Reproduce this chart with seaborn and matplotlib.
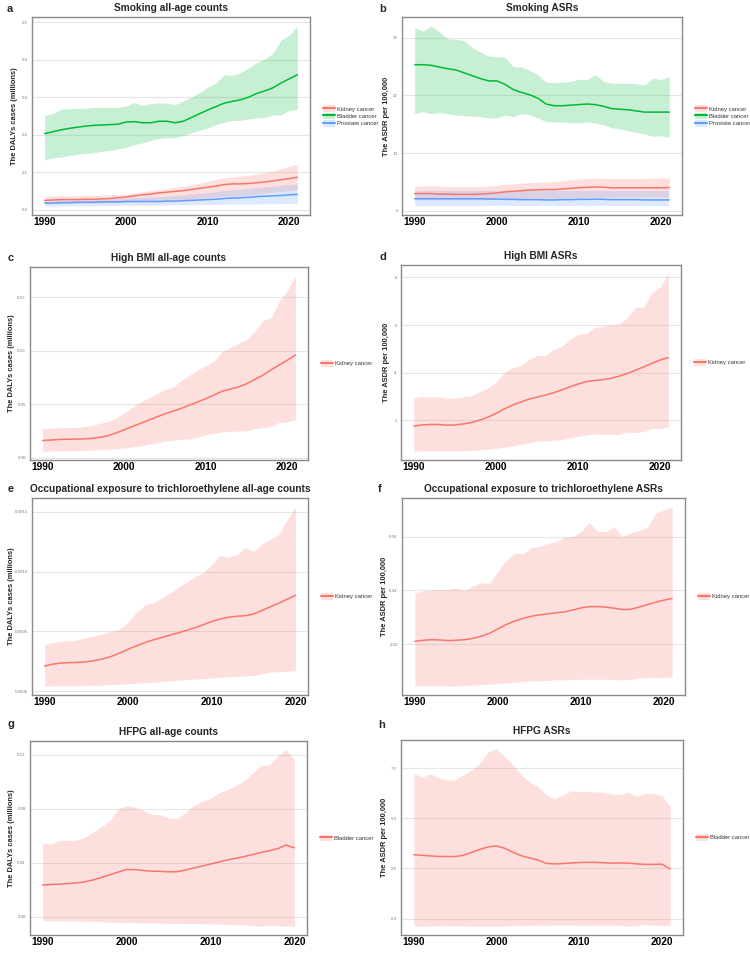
import numpy as np
import pandas as pd
import matplotlib
matplotlib.use("Agg")
import matplotlib.pyplot as plt
import seaborn as sns
from matplotlib.lines import Line2D
from matplotlib.patches import Patch

years_21 = list(range(1990, 2022))
years_20 = list(range(1990, 2021))

# a: smoking all-age counts (millions)
a_bladder = [0.203, 0.208, 0.213, 0.217, 0.220, 0.223, 0.225, 0.226, 0.227, 0.228, 0.234, 0.235, 0.232, 0.232, 0.236, 0.236,
             0.232, 0.236, 0.246, 0.256, 0.266, 0.275, 0.284, 0.289, 0.293, 0.300, 0.310, 0.317, 0.325, 0.338, 0.349, 0.360]
a_bladder_hi = [0.252, 0.256, 0.268, 0.270, 0.270, 0.271, 0.273, 0.273, 0.273, 0.273, 0.277, 0.286, 0.278, 0.283, 0.285, 0.284,
                0.280, 0.290, 0.300, 0.313, 0.327, 0.338, 0.360, 0.358, 0.365, 0.378, 0.392, 0.402, 0.417, 0.453, 0.465, 0.490]
a_bladder_lo = [0.132, 0.139, 0.140, 0.145, 0.148, 0.150, 0.152, 0.156, 0.158, 0.162, 0.166, 0.174, 0.178, 0.185, 0.190, 0.192,
                0.192, 0.198, 0.205, 0.212, 0.218, 0.227, 0.233, 0.238, 0.238, 0.242, 0.245, 0.246, 0.253, 0.253, 0.265, 0.268]
a_kidney = [0.025, 0.026, 0.027, 0.027, 0.027, 0.028, 0.028, 0.029, 0.030, 0.032, 0.034, 0.037, 0.040, 0.042, 0.045, 0.047,
            0.049, 0.051, 0.054, 0.057, 0.060, 0.063, 0.067, 0.069, 0.069, 0.070, 0.072, 0.074, 0.077, 0.080, 0.083, 0.087]
a_kidney_hi = [0.036, 0.037, 0.038, 0.038, 0.038, 0.038, 0.038, 0.039, 0.040, 0.041, 0.042, 0.045, 0.048, 0.051, 0.054, 0.057,
               0.060, 0.063, 0.066, 0.071, 0.076, 0.081, 0.085, 0.088, 0.090, 0.092, 0.095, 0.099, 0.103, 0.110, 0.115, 0.122]
a_kidney_lo = [0.016, 0.016, 0.017, 0.017, 0.017, 0.018, 0.018, 0.018, 0.019, 0.019, 0.020, 0.021, 0.022, 0.023, 0.024, 0.025,
               0.026, 0.027, 0.028, 0.030, 0.032, 0.034, 0.036, 0.037, 0.038, 0.040, 0.042, 0.044, 0.046, 0.049, 0.051, 0.054]
a_prostate = [0.018, 0.018, 0.019, 0.019, 0.020, 0.020, 0.020, 0.021, 0.021, 0.021, 0.022, 0.022, 0.022, 0.022, 0.022, 0.023,
              0.023, 0.024, 0.025, 0.026, 0.027, 0.028, 0.030, 0.031, 0.032, 0.033, 0.035, 0.036, 0.037, 0.038, 0.040, 0.041]
a_prostate_hi = [0.022, 0.023, 0.024, 0.024, 0.025, 0.026, 0.027, 0.028, 0.029, 0.030, 0.031, 0.032, 0.033, 0.034, 0.035, 0.036,
                 0.038, 0.040, 0.042, 0.044, 0.046, 0.048, 0.051, 0.053, 0.055, 0.057, 0.059, 0.061, 0.063, 0.065, 0.067, 0.069]
a_prostate_lo = [0.010, 0.010, 0.010, 0.011, 0.011, 0.011, 0.011, 0.011, 0.012, 0.012, 0.012, 0.012, 0.012, 0.012, 0.012, 0.013,
                 0.013, 0.013, 0.013, 0.014, 0.014, 0.014, 0.015, 0.015, 0.015, 0.015, 0.016, 0.016, 0.016, 0.016, 0.017, 0.017]

# b: smoking ASRs
b_bladder = [25.3, 25.3, 25.2, 24.9, 24.6, 24.4, 23.9, 23.4, 22.9, 22.5, 22.5, 21.9, 21.0, 20.5, 20.1, 19.5,
             18.5, 18.2, 18.2, 18.3, 18.4, 18.5, 18.4, 18.1, 17.7, 17.6, 17.5, 17.3, 17.1, 17.1, 17.1, 17.1]
b_bladder_hi = [31.7, 31.1, 32.0, 31.0, 29.8, 29.7, 29.5, 28.3, 27.5, 26.8, 26.7, 26.6, 24.9, 24.9, 24.3, 23.6,
                22.3, 22.2, 22.3, 22.4, 22.8, 22.7, 23.6, 22.4, 22.1, 22.1, 22.1, 22.0, 21.8, 23.0, 22.7, 23.3]
b_bladder_lo = [16.8, 17.2, 16.8, 17.0, 16.8, 16.6, 16.5, 16.4, 16.3, 16.1, 16.1, 16.6, 16.3, 16.8, 16.6, 16.1,
                15.4, 15.4, 15.4, 15.3, 15.2, 15.4, 15.2, 14.9, 14.4, 14.2, 13.9, 13.6, 13.3, 12.9, 13.0, 12.7]
b_kidney = [3.0, 3.0, 3.0, 2.9, 2.9, 2.85, 2.85, 2.85, 2.9, 3.0, 3.1, 3.3, 3.4, 3.5, 3.6, 3.65,
            3.7, 3.7, 3.8, 3.9, 4.0, 4.1, 4.15, 4.1, 4.0, 4.0, 4.0, 4.0, 4.0, 4.0, 4.0, 4.05]
b_kidney_hi = [4.3, 4.3, 4.4, 4.3, 4.2, 4.2, 4.2, 4.2, 4.2, 4.3, 4.4, 4.6, 4.7, 4.8, 4.9, 4.95,
               5.0, 5.1, 5.2, 5.4, 5.5, 5.6, 5.7, 5.65, 5.6, 5.6, 5.6, 5.6, 5.6, 5.7, 5.7, 5.7]
b_kidney_lo = [1.9, 1.9, 1.9, 1.9, 1.9, 1.9, 1.9, 1.9, 1.9, 2.0, 2.0, 2.1, 2.1, 2.2, 2.2, 2.2,
               2.2, 2.2, 2.2, 2.3, 2.3, 2.4, 2.4, 2.4, 2.4, 2.4, 2.4, 2.4, 2.4, 2.4, 2.4, 2.4]
b_prostate = [2.1, 2.1, 2.1, 2.1, 2.1, 2.1, 2.1, 2.1, 2.1, 2.05, 2.05, 2.0, 2.0, 1.95, 1.95, 1.95,
              1.9, 1.9, 1.95, 1.95, 2.0, 2.0, 2.05, 2.0, 1.95, 1.95, 1.95, 1.95, 1.9, 1.9, 1.9, 1.9]
b_prostate_hi = [3.4] * 32
b_prostate_lo = [0.85] * 32

# c: high BMI all-age counts
c_kidney = [0.016, 0.0165, 0.017, 0.0172, 0.0173, 0.0175, 0.018, 0.019, 0.0205, 0.023, 0.026, 0.029, 0.032, 0.035, 0.038, 0.041,
            0.0435, 0.046, 0.049, 0.052, 0.055, 0.0585, 0.062, 0.064, 0.066, 0.069, 0.073, 0.077, 0.082, 0.0865, 0.091, 0.096]
c_kidney_hi = [0.027, 0.0275, 0.028, 0.028, 0.028, 0.029, 0.030, 0.032, 0.034, 0.037, 0.042, 0.047, 0.052, 0.056, 0.060, 0.064,
               0.066, 0.072, 0.077, 0.082, 0.086, 0.090, 0.099, 0.103, 0.107, 0.110, 0.118, 0.128, 0.131, 0.146, 0.156, 0.170]
c_kidney_lo = [0.006, 0.006, 0.0062, 0.0064, 0.0065, 0.0067, 0.007, 0.0073, 0.0078, 0.0083, 0.009, 0.010, 0.011, 0.0125, 0.0135, 0.0155,
               0.0162, 0.0172, 0.0175, 0.019, 0.0216, 0.0225, 0.024, 0.0245, 0.025, 0.025, 0.027, 0.028, 0.029, 0.033, 0.0335, 0.0355]

# d: high BMI ASRs
d_kidney = [1.75, 1.80, 1.82, 1.82, 1.79, 1.80, 1.84, 1.90, 2.00, 2.12, 2.28, 2.47, 2.63, 2.76, 2.88, 2.97,
            3.05, 3.15, 3.27, 3.40, 3.52, 3.62, 3.67, 3.70, 3.76, 3.85, 3.96, 4.10, 4.24, 4.39, 4.53, 4.63]
d_kidney_hi = [2.94, 2.99, 2.97, 2.99, 2.92, 2.94, 2.99, 3.02, 3.20, 3.35, 3.60, 4.00, 4.20, 4.30, 4.55, 4.72,
               4.72, 4.95, 5.10, 5.40, 5.60, 5.65, 5.90, 5.95, 6.00, 6.05, 6.30, 6.75, 6.75, 7.35, 7.60, 8.15]
d_kidney_lo = [0.70, 0.70, 0.71, 0.71, 0.71, 0.71, 0.72, 0.72, 0.75, 0.78, 0.82, 0.87, 0.92, 0.98, 1.04, 1.12,
               1.13, 1.15, 1.18, 1.25, 1.32, 1.37, 1.42, 1.41, 1.41, 1.40, 1.50, 1.48, 1.52, 1.65, 1.65, 1.72]

# e: trichloroethylene all-age counts
e_kidney = [0.000210, 0.000225, 0.000235, 0.000238, 0.000240, 0.000245, 0.000255, 0.000270, 0.000290, 0.000318, 0.000350,
            0.000378, 0.000405, 0.000428, 0.000448, 0.000468, 0.000488, 0.000508, 0.000530, 0.000556, 0.000582,
            0.000603, 0.000618, 0.000626, 0.000630, 0.000645, 0.000675, 0.000705, 0.000735, 0.000768, 0.000800]
e_kidney_hi = [0.000390, 0.000405, 0.000415, 0.000420, 0.000430, 0.000450, 0.000460, 0.000480, 0.000500, 0.000520, 0.000580,
               0.000660, 0.000720, 0.000740, 0.000780, 0.000820, 0.000870, 0.000910, 0.000960, 0.000990, 0.001060,
               0.001135, 0.001120, 0.001140, 0.001200, 0.001170, 0.001230, 0.001270, 0.001310, 0.001430, 0.001540]
e_kidney_lo = [0.000042, 0.000043, 0.000043, 0.000044, 0.000044, 0.000045, 0.000048, 0.000051, 0.000054, 0.000057, 0.000060,
               0.000065, 0.000070, 0.000075, 0.000080, 0.000085, 0.000090, 0.000095, 0.000100, 0.000105, 0.000110,
               0.000114, 0.000118, 0.000122, 0.000126, 0.000130, 0.000145, 0.000160, 0.000162, 0.000166, 0.000172]

# f: trichloroethylene ASRs
f_kidney = [0.0211, 0.0215, 0.0217, 0.0216, 0.0214, 0.0215, 0.0217, 0.0222, 0.0230, 0.0241, 0.0257, 0.0273, 0.0286, 0.0296, 0.0304, 0.0309,
            0.0313, 0.0317, 0.0320, 0.0327, 0.0335, 0.0340, 0.0340, 0.0338, 0.0334, 0.0329, 0.0330, 0.0338, 0.0347, 0.0356, 0.0364, 0.0370]
f_kidney_hi = [0.0391, 0.0399, 0.0402, 0.0402, 0.0403, 0.0410, 0.0400, 0.0418, 0.0428, 0.0428, 0.0470, 0.0513, 0.0538, 0.0535, 0.0560, 0.0563,
               0.0575, 0.0580, 0.0598, 0.0600, 0.0618, 0.0652, 0.0620, 0.0618, 0.0636, 0.0600, 0.0614, 0.0622, 0.0634, 0.0686, 0.0700, 0.0710]
f_kidney_lo = [0.0046, 0.0046, 0.0046, 0.0046, 0.0045, 0.0045, 0.0047, 0.0048, 0.0050, 0.0052, 0.0055, 0.0057, 0.0059, 0.0062, 0.0064, 0.0065,
               0.0066, 0.0068, 0.0068, 0.0069, 0.0070, 0.0070, 0.0070, 0.0070, 0.0069, 0.0068, 0.0070, 0.0075, 0.0076, 0.0076, 0.0077, 0.0078]

# g: HFPG all-age counts
g_bladder = [0.0235, 0.0238, 0.0241, 0.0245, 0.0250, 0.0258, 0.0272, 0.0290, 0.0310, 0.0330, 0.0350, 0.0349, 0.0342, 0.0337, 0.0336, 0.0332,
             0.0333, 0.0345, 0.0360, 0.0375, 0.0390, 0.0405, 0.0420, 0.0432, 0.0445, 0.0460, 0.0475, 0.0488, 0.0503, 0.0530, 0.0510]
g_bladder_hi = [0.0543, 0.0538, 0.0563, 0.0565, 0.0566, 0.0588, 0.0625, 0.0665, 0.0710, 0.0798, 0.0822, 0.0810, 0.0790, 0.0756, 0.0756, 0.0731,
                0.0728, 0.0770, 0.0825, 0.0855, 0.0875, 0.0915, 0.0940, 0.0970, 0.1005, 0.1060, 0.1120, 0.1120, 0.1190, 0.1235, 0.1163]
g_bladder_lo = [-0.0030, -0.0031, -0.0031, -0.0032, -0.0032, -0.0033, -0.0035, -0.0037, -0.0040, -0.0042, -0.0043, -0.0044, -0.0045, -0.0046, -0.0048, -0.0049,
                -0.0049, -0.0050, -0.0051, -0.0052, -0.0053, -0.0055, -0.0057, -0.0059, -0.0061, -0.0067, -0.0070, -0.0065, -0.0067, -0.0070, -0.0070]

# h: HFPG ASRs
h_bladder = [3.18, 3.15, 3.12, 3.10, 3.09, 3.09, 3.15, 3.30, 3.45, 3.57, 3.62, 3.50, 3.30, 3.13, 3.02, 2.92,
             2.75, 2.72, 2.74, 2.77, 2.79, 2.80, 2.80, 2.78, 2.76, 2.77, 2.76, 2.72, 2.70, 2.70, 2.71, 2.47]
h_bladder_hi = [7.25, 7.03, 7.22, 7.03, 6.90, 6.92, 7.17, 7.42, 7.75, 8.33, 8.46, 8.08, 7.66, 7.17, 6.80, 6.59,
                6.17, 5.97, 6.14, 6.37, 6.34, 6.34, 6.32, 6.29, 6.20, 6.20, 6.30, 6.09, 6.24, 6.25, 6.14, 5.59]
h_bladder_lo = [-0.38, -0.38, -0.37, -0.37, -0.36, -0.37, -0.37, -0.38, -0.38, -0.38, -0.38, -0.37, -0.36, -0.35, -0.35, -0.34,
                -0.33, -0.33, -0.33, -0.33, -0.33, -0.34, -0.34, -0.34, -0.34, -0.35, -0.38, -0.36, -0.30, -0.34, -0.35, -0.36]

KIDNEY = "#F8766D"
BLADDER = "#00BA38"
PROSTATE = "#619CFF"

sns.set_theme(style="white")
plt.rcParams["font.family"] = ["Liberation Sans", "DejaVu Sans"]

W, H = 750, 958
fig = plt.figure(figsize=(W / 100, H / 100), dpi=100)


def make_ax(x0, y0, x1, y1):
    return fig.add_axes([x0 / W, 1 - y1 / H, (x1 - x0) / W, (y1 - y0) / H])


def draw_panel(box, letter_xy, label_x, letter, title, ylabel, series, yticks, ylabels):
    x0, y0, x1, y1 = box
    ax = make_ax(x0, y0, x1, y1)
    handles = []
    for name, yrs, mid, lo, hi, col in series:
        df = pd.DataFrame({"year": yrs, "val": mid})
        ax.fill_between(yrs, lo, hi, color=col, alpha=0.22, linewidth=0)
        sns.lineplot(data=df, x="year", y="val", ax=ax, color=col, linewidth=1.1)
        handles.append((Patch(facecolor=col, alpha=0.22, edgecolor="none"),
                        Line2D([], [], color=col, linewidth=1.5)))
    ax.margins(x=0.05, y=0.05)
    ax.set_xticks([1990, 2000, 2010, 2020])
    ax.set_xticklabels(["1990", "2000", "2010", "2020"], fontsize=7.3, fontweight="bold", color="black")
    ax.set_yticks(yticks)
    ax.set_yticklabels(ylabels, fontsize=3.2, color="#7a7a7a")
    ax.tick_params(axis="y", length=0, pad=3)
    ax.tick_params(axis="x", length=0, pad=1.5)
    ax.grid(axis="y", color="#e6e6e6", linewidth=0.8)
    ax.set_axisbelow(True)
    for s in ax.spines.values():
        s.set_color("#8a8a8a")
        s.set_linewidth(1.0)
    ax.set_xlabel("")
    ax.set_ylabel(ylabel, fontsize=5.4, fontweight="bold")
    ax.yaxis.set_label_coords((label_x - x0) / (x1 - x0), 0.5)
    ax.set_title(title, fontsize=7.3, fontweight="bold", pad=4)
    fig.text(letter_xy[0] / W, 1 - letter_xy[1] / H, letter, fontsize=8, fontweight="bold",
             ha="left", va="baseline")
    leg = ax.legend(handles, [s[0] for s in series], loc="center left", bbox_to_anchor=(1.03, 0.5),
                    frameon=False, fontsize=4.2, handlelength=2.0, handleheight=1.4,
                    labelspacing=0.1, handletextpad=0.4, borderpad=0.3)
    for t in leg.get_texts():
        t.set_color("#333333")
    return ax


cnt = "The DALYs cases (millions)"
asr = "The ASDR per 100,000"

draw_panel((32, 17, 310, 215), (7, 11.5), 18, "a", "Smoking all-age counts", cnt,
           [("Kidney cancer", years_21, a_kidney, a_kidney_lo, a_kidney_hi, KIDNEY),
            ("Bladder cancer", years_21, a_bladder, a_bladder_lo, a_bladder_hi, BLADDER),
            ("Prostate cancer", years_21, a_prostate, a_prostate_lo, a_prostate_hi, PROSTATE)],
           [0, 0.1, 0.2, 0.3, 0.4, 0.5], ["0.0", "0.1", "0.2", "0.3", "0.4", "0.5"])

draw_panel((402, 17, 682, 215), (379, 11.5), 390, "b", "Smoking ASRs", asr,
           [("Kidney cancer", years_21, b_kidney, b_kidney_lo, b_kidney_hi, KIDNEY),
            ("Bladder cancer", years_21, b_bladder, b_bladder_lo, b_bladder_hi, BLADDER),
            ("Prostate cancer", years_21, b_prostate, b_prostate_lo, b_prostate_hi, PROSTATE)],
           [0, 10, 20, 30], ["0", "10", "20", "30"])

draw_panel((30, 267, 308, 460), (8, 261), 15, "c", "High BMI all-age counts", cnt,
           [("Kidney cancer", years_21, c_kidney, c_kidney_lo, c_kidney_hi, KIDNEY)],
           [0, 0.05, 0.10, 0.15], ["0.00", "0.05", "0.10", "0.15"])

draw_panel((401, 265, 681, 460), (379, 260), 390, "d", "High BMI ASRs", asr,
           [("Kidney cancer", years_21, d_kidney, d_kidney_lo, d_kidney_hi, KIDNEY)],
           [2, 4, 6, 8], ["2", "4", "6", "8"])

draw_panel((32, 498, 308, 695), (8, 492), 15, "e", "Occupational exposure to trichloroethylene all-age counts", cnt,
           [("Kidney cancer", years_20, e_kidney, e_kidney_lo, e_kidney_hi, KIDNEY)],
           [0, 0.0005, 0.0010, 0.0015], ["0.0000", "0.0005", "0.0010", "0.0015"])

draw_panel((402, 498, 685, 695), (378, 492), 388, "f", "Occupational exposure to trichloroethylene ASRs", asr,
           [("Kidney cancer", years_21, f_kidney, f_kidney_lo, f_kidney_hi, KIDNEY)],
           [0.02, 0.04, 0.06], ["0.02", "0.04", "0.06"])

draw_panel((30, 741, 307, 935), (7, 727), 15, "g", "HFPG all-age counts", cnt,
           [("Bladder cancer", years_20, g_bladder, g_bladder_lo, g_bladder_hi, KIDNEY)],
           [0, 0.04, 0.08, 0.12], ["0.00", "0.04", "0.08", "0.12"])

draw_panel((401, 740, 683, 935), (378, 728), 388, "h", "HFPG ASRs", asr,
           [("Bladder cancer", years_21, h_bladder, h_bladder_lo, h_bladder_hi, KIDNEY)],
           [0, 2.5, 5.0, 7.5], ["0.0", "2.5", "5.0", "7.5"])

fig.savefig("out.png", dpi=100)
